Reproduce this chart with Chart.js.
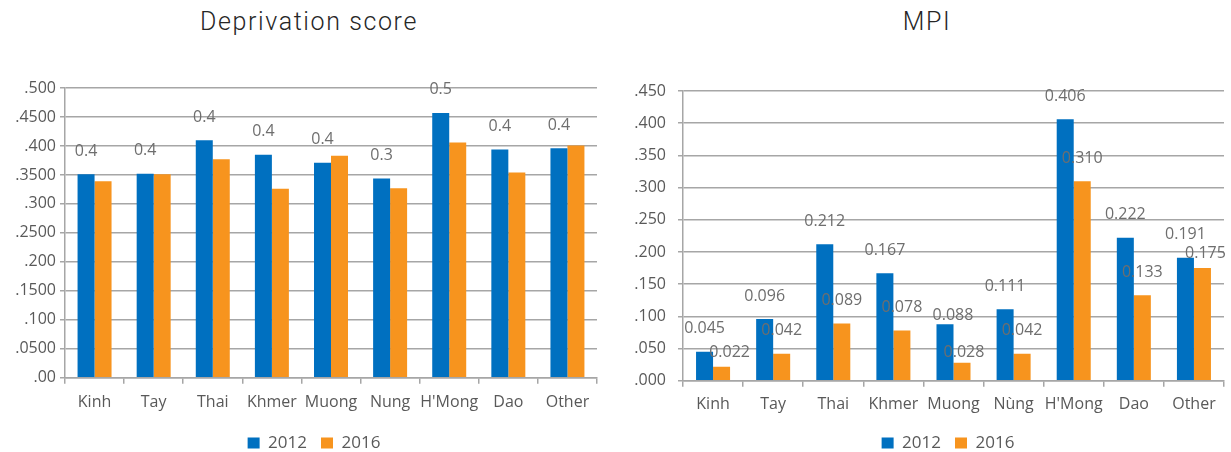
<!DOCTYPE html>
<html>
<head>
<meta charset="utf-8">
<script src="https://cdn.jsdelivr.net/npm/chart.js@4/dist/chart.umd.min.js"></script>
<style>
  body { margin: 0; background: #fff; }
  #wrap { position: relative; width: 1231px; height: 452px; overflow: hidden; }
  canvas { position: absolute; top: 0; }
  #depChart { left: 0; }
  #mpiChart { left: 615px; }
  .title {
    position: absolute; top: 8px; transform: translateX(-50%);
    font: 300 25px/28px Roboto, sans-serif; letter-spacing: 1.6px; color: #262626; white-space: nowrap;
  }
</style>
</head>
<body>
<div id="wrap">
  <div class="title" style="left:309px">Deprivation score</div>
  <div class="title" style="left:927px">MPI</div>
  <canvas id="depChart" width="615" height="452"></canvas>
  <canvas id="mpiChart" width="616" height="452"></canvas>
</div>
<script>
const groups = ['Kinh', 'Tay', 'Thai', 'Khmer', 'Muong', 'Nung', "H'Mong", 'Dao', 'Other'];
const mpiGroups = ['Kinh', 'Tay', 'Thai', 'Khmer', 'Muong', 'Nùng', "H'Mong", 'Dao', 'Other'];
const years = ['2012', '2016'];

const depScore2012 = [0.351, 0.352, 0.410, 0.385, 0.371, 0.344, 0.457, 0.394, 0.396];
const depScore2016 = [0.339, 0.351, 0.377, 0.326, 0.383, 0.327, 0.406, 0.354, 0.401];

const mpi2012 = [0.045, 0.096, 0.212, 0.167, 0.088, 0.111, 0.406, 0.222, 0.191];
const mpi2016 = [0.022, 0.042, 0.089, 0.078, 0.028, 0.042, 0.310, 0.133, 0.175];

const depTicks = ['.00', '.0500', '.100', '.1500', '.200', '.2500', '.300', '.3500', '.400', '.4500', '.500'];
const mpiTicks = ['.000', '.050', '.100', '.150', '.200', '.250', '.300', '.350', '.400', '.450'];

const BLUE = '#0070C0';
const ORANGE = '#F7941E';
const GRID = '#A6A6A6';
const TEXT = '#595959';
const FONT = '"Open Sans", sans-serif';

// a few MPI labels sit lower / to the side so they don't collide
const mpiNudge2012 = { 4: [8, 14] };
const mpiNudge2016 = { 0: [8, 9], 4: [2, 13], 8: [3, 8] };

// value labels above the bars
const barLabels = {
  id: 'barLabels',
  afterDatasetsDraw(chart) {
    const ctx = chart.ctx;
    ctx.save();
    ctx.font = '16px ' + FONT;
    ctx.fillStyle = '#6E6E6E';
    ctx.textAlign = 'center';
    ctx.textBaseline = 'middle';
    chart.data.datasets.forEach((ds, di) => {
      if (ds.labelDecimals == null) return;
      chart.getDatasetMeta(di).data.forEach((bar, i) => {
        const nudge = (ds.labelNudge && ds.labelNudge[i]) || [0, 0];
        ctx.fillText(ds.data[i].toFixed(ds.labelDecimals), bar.x + nudge[0], bar.y - 23 + nudge[1]);
      });
    });
    ctx.restore();
  }
};

// slide the legend sideways after layout (it centres on the whole canvas otherwise)
function shiftLegend(dx) {
  return {
    id: 'shiftLegend',
    afterLayout(chart) {
      chart.legend.left += dx;
      chart.legend.right += dx;
    }
  };
}

function barOptions(cfg) {
  return {
    responsive: false,
    animation: false,
    layout: { padding: cfg.padding },
    plugins: {
      tooltip: { enabled: false },
      legend: {
        position: 'bottom',
        labels: {
          boxWidth: 12, boxHeight: 11, padding: 14,
          color: TEXT, font: { family: FONT, size: 17 }
        }
      }
    },
    scales: {
      x: {
        ticks: { color: TEXT, font: { family: FONT, size: 16 }, padding: cfg.xPad, autoSkip: false, maxRotation: 0 },
        grid: { offset: true, drawOnChartArea: false, tickLength: 6, color: GRID, lineWidth: 1.5 },
        border: { color: GRID, width: 1.5 },
        afterFit: s => { s.height = cfg.xHeight; }
      },
      y: {
        min: 0,
        max: cfg.max,
        ticks: {
          stepSize: 0.05,
          color: TEXT,
          font: { family: FONT, size: 16 },
          padding: cfg.yPad,
          callback: (v, i) => cfg.tickLabels[i]
        },
        grid: { color: GRID, lineWidth: 1.5, tickLength: 5 },
        border: { color: GRID, width: 1.5 },
        afterFit: s => { s.width = cfg.axisWidth; }
      }
    }
  };
}

new Chart(document.getElementById('depChart'), {
  type: 'bar',
  data: {
    labels: groups,
    datasets: [
      { label: years[0], data: depScore2012, backgroundColor: BLUE, categoryPercentage: 0.575, barPercentage: 1, labelDecimals: 1 },
      { label: years[1], data: depScore2016, backgroundColor: ORANGE, categoryPercentage: 0.575, barPercentage: 1 }
    ]
  },
  options: barOptions({
    padding: { left: 0, right: 18, top: 88, bottom: -9.5 },
    axisWidth: 65, xHeight: 42.7, max: 0.5, tickLabels: depTicks, xPad: 9, yPad: 4
  }),
  plugins: [barLabels, shiftLegend(15.5)]
});

new Chart(document.getElementById('mpiChart'), {
  type: 'bar',
  data: {
    labels: mpiGroups,
    datasets: [
      { label: years[0], data: mpi2012, backgroundColor: BLUE, categoryPercentage: 0.566, barPercentage: 1, labelDecimals: 3, labelNudge: mpiNudge2012 },
      { label: years[1], data: mpi2016, backgroundColor: ORANGE, categoryPercentage: 0.566, barPercentage: 1, labelDecimals: 3, labelNudge: mpiNudge2016 }
    ]
  },
  options: barOptions({
    padding: { left: 0, right: 7, top: 91, bottom: -9.5 },
    axisWidth: 68, xHeight: 39.7, max: 0.45, tickLabels: mpiTicks, xPad: 8, yPad: 12
  }),
  plugins: [barLabels, shiftLegend(28.5)]
});
</script>
</body>
</html>
